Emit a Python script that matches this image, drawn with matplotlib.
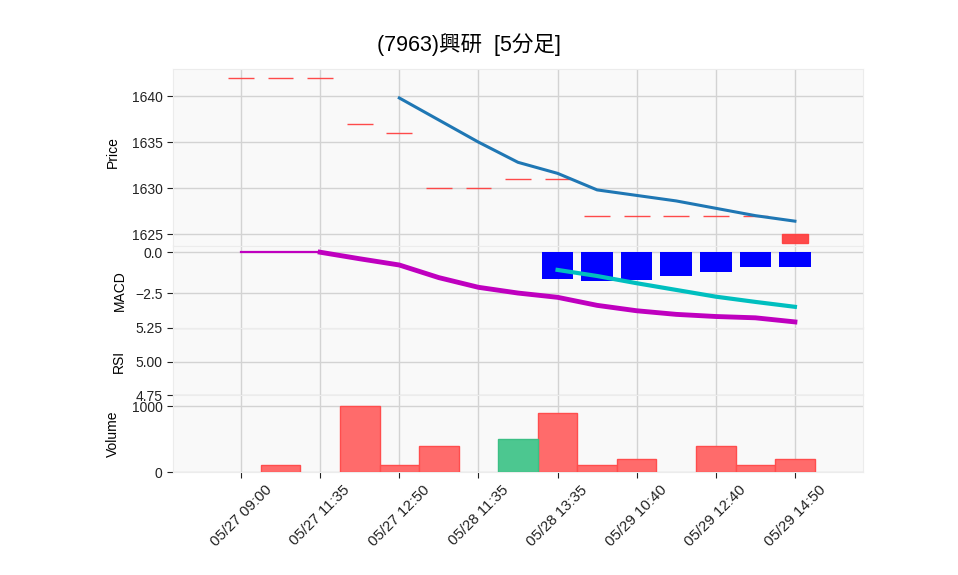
"""5-minute chart for 7963 Koken: price, MACD, RSI and volume panels."""

import matplotlib
matplotlib.use("Agg")
import matplotlib.pyplot as plt
import numpy as np

matplotlib.rcParams["font.family"] = ["Liberation Sans", "Noto Sans CJK JP", "DejaVu Sans"]
matplotlib.rcParams["font.size"] = 10
matplotlib.rcParams["axes.unicode_minus"] = True

TITLE = "(7963)興研  [5分足]"

# one entry per 5-minute bar
opens = [1642, 1642, 1642, 1637, 1636, 1630, 1630, 1631, 1631, 1627, 1627, 1627, 1627, 1627, 1625]
closes = [1642, 1642, 1642, 1637, 1636, 1630, 1630, 1631, 1631, 1627, 1627, 1627, 1627, 1627, 1624]
ma5 = [np.nan, np.nan, np.nan, np.nan, 1639.8, 1637.4, 1635.0, 1632.8, 1631.6,
       1629.8, 1629.2, 1628.6, 1627.8, 1627.0, 1626.4]
volumes = [0, 100, 0, 1000, 100, 400, 0, 500, 900, 100, 200, 0, 400, 100, 200]

macd = [0.0, 0.0, 0.0, -0.40, -0.78, -1.55, -2.14, -2.49, -2.75, -3.24, -3.57,
        -3.79, -3.92, -4.00, -4.25]
signal = [np.nan] * 8 + [-1.08, -1.45, -1.89, -2.30, -2.71, -3.03, -3.33]
hist = [np.nan] * 8 + [-1.63, -1.76, -1.68, -1.47, -1.18, -0.90, -0.89]

tick_labels = ["05/27 09:00", "05/27 11:35", "05/27 12:50", "05/28 11:35",
               "05/28 13:35", "05/29 10:40", "05/29 12:40", "05/29 14:50"]

FACE = "#f9f9f9"
GRID = "#d3d3d3"

x = np.arange(len(closes))
ticks = x[::2]

fig = plt.figure(figsize=(9.58, 5.75), dpi=100)
left, width = 0.1806, 0.7202
ax_p = fig.add_axes([left, 0.5722, width, 0.3078])
ax_m = fig.add_axes([left, 0.4296, width, 0.1426])
ax_r = fig.add_axes([left, 0.3122, width, 0.1174])
ax_v = fig.add_axes([left, 0.1791, width, 0.1331])

for ax in (ax_p, ax_m, ax_r, ax_v):
    ax.set_facecolor(FACE)
    ax.set_xlim(-1.72, 15.72)
    ax.set_xticks(ticks)
    ax.grid(True, color=GRID, linewidth=1.0)
    ax.set_axisbelow(True)
    for s in ax.spines.values():
        s.set_color("#ececec")
    ax.tick_params(axis="y", length=4, color="#222222", labelcolor="#222222")
    if ax is not ax_v:
        ax.tick_params(axis="x", length=0, labelbottom=False)

# ── Price ──
o = np.array(opens, dtype=float)
c = np.array(closes, dtype=float)
ax_p.bar(x, c - o, bottom=o, width=0.65, color="#ff4040", edgecolor="#ff4040",
         linewidth=1.0, alpha=0.95, zorder=3)
ax_p.plot(x, ma5, color="#1f77b4", linewidth=2.2, zorder=4)
ax_p.set_ylim(1623.7, 1642.95)
ax_p.set_yticks([1625, 1630, 1635, 1640])
ax_p.set_ylabel("Price")
ax_p.yaxis.set_label_coords(-0.077, 0.53)

# ── MACD ──
ax_m.bar(x, hist, width=0.8, color="#0000ff", zorder=3)
ax_m.plot(x[:3], macd[:3], color="#bf00bf", linewidth=1.6, zorder=4)
ax_m.plot(x[2:], macd[2:], color="#bf00bf", linewidth=3.5, zorder=4)
ax_m.plot(x, signal, color="#00bfbf", linewidth=3.0, zorder=4)
ax_m.set_ylim(-4.62, 0.38)
ax_m.set_yticks([-2.5, 0.0])
ax_m.set_yticklabels(["−2.5", "0.0"])
ax_m.set_ylabel("MACD")
ax_m.yaxis.set_label_coords(-0.067, 0.45)

# ── RSI (no values in this window) ──
ax_r.set_ylim(4.75, 5.25)
ax_r.set_yticks([4.75, 5.00, 5.25])
ax_r.set_yticklabels(["4.75", "5.00", "5.25"])
ax_r.set_ylabel("RSI")
ax_r.yaxis.set_label_coords(-0.069, 0.5)

# ── Volume (empty bars are not drawn) ──
vol = np.array(volumes)
up = np.r_[False, c[1:] > c[:-1]]
has_vol = vol > 0
for mask, face, edge in ((has_vol & ~up, "#ff6b6b", "#ff4d4d"),
                         (has_vol & up, "#4cc790", "#3cbf85")):
    ax_v.bar(x[mask], vol[mask], width=1.0, color=face, edgecolor=edge,
             linewidth=1.0, zorder=3)
ax_v.set_ylim(0, 1160)
ax_v.set_yticks([0, 1000])
ax_v.set_ylabel("Volume")
ax_v.yaxis.set_label_coords(-0.077, 0.5)
ax_v.set_xticklabels(tick_labels, rotation=45, ha="center", fontsize=10.8)
ax_v.tick_params(axis="x", length=4, color="#222222", labelcolor="#222222", pad=4)

fig.text(0.49, 0.922, TITLE, ha="center", va="center", fontsize=15.5)

fig.savefig("out.png", dpi=100)
